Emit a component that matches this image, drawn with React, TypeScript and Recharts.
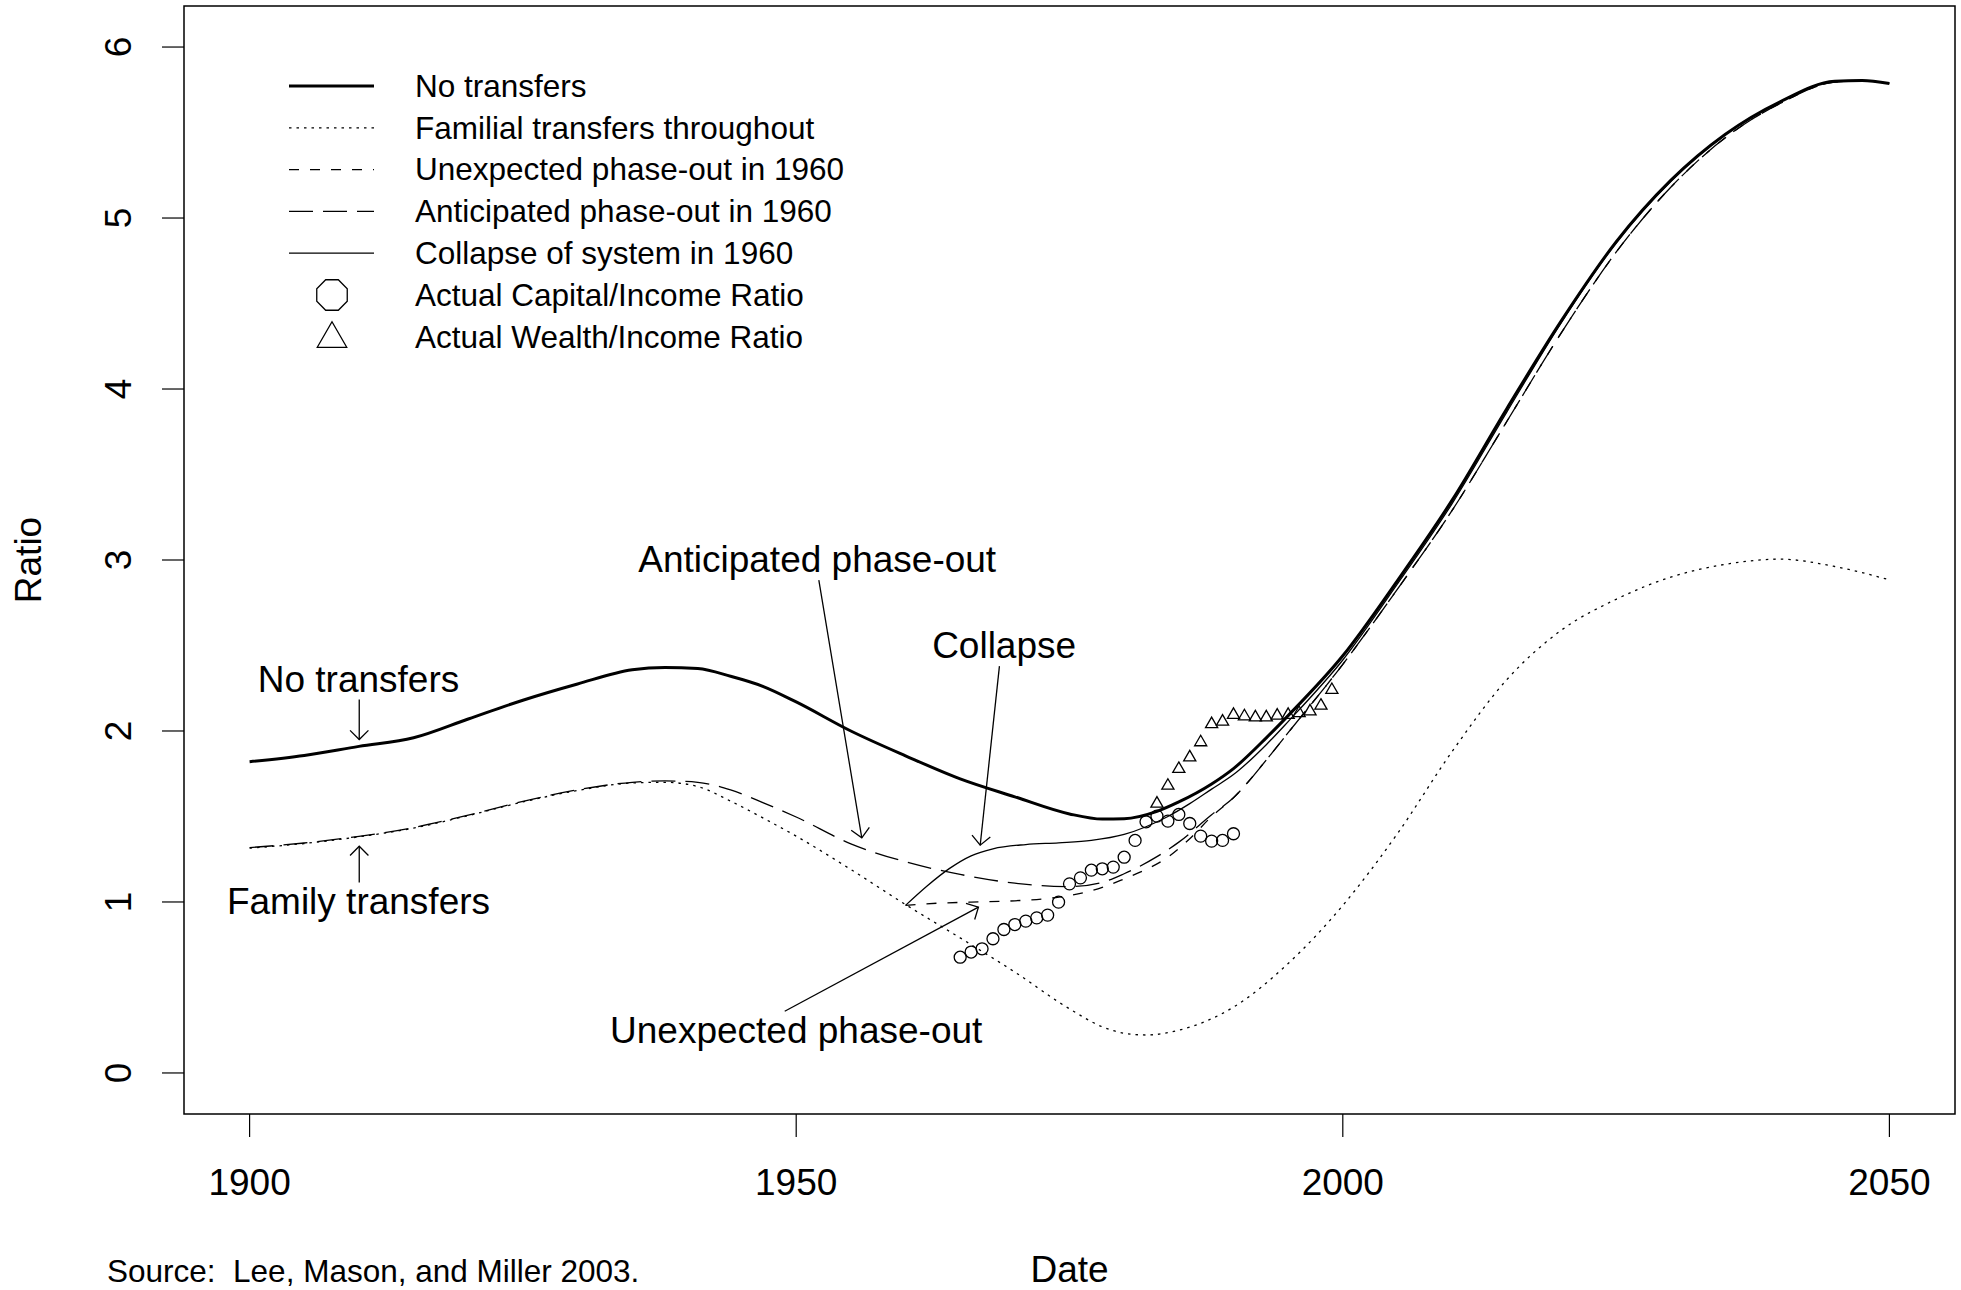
import React from 'react';
import {
  ComposedChart,
  Line,
  Scatter,
  XAxis,
  YAxis,
  ReferenceArea,
  ReferenceLine,
  ReferenceDot,
} from 'recharts';

const FONT = '"Liberation Sans", Arial, Helvetica, sans-serif';

// axes
const xTicks = [1900, 1950, 2000, 2050];
const yTicks = [0, 1, 2, 3, 4, 5, 6];

// simulated series, [year, capital/income ratio]
const noTransfers: [number, number][] = [
  [1900, 1.82], [1905, 1.857], [1910, 1.91], [1915, 1.96], [1920, 2.07],
  [1925, 2.18], [1930, 2.275], [1935, 2.358], [1938, 2.372], [1941, 2.365],
  [1944, 2.32], [1947, 2.26], [1950, 2.17], [1955, 2.0], [1960, 1.855],
  [1965, 1.72], [1970, 1.615], [1975, 1.515], [1978, 1.485], [1980, 1.487],
  [1983, 1.53], [1985, 1.585], [1988, 1.69], [1990, 1.78], [1993, 1.96],
  [1995, 2.09], [2000, 2.44], [2005, 2.88], [2010, 3.35], [2015, 3.885],
  [2020, 4.4], [2025, 4.86], [2030, 5.22], [2035, 5.49], [2040, 5.68],
  [2045, 5.8], [2047.5, 5.805], [2050, 5.787],
];

const familial: [number, number][] = [
  [1900, 1.315], [1905, 1.342], [1910, 1.381], [1915, 1.432], [1920, 1.505],
  [1925, 1.585], [1930, 1.652], [1935, 1.696], [1938, 1.7], [1941, 1.675],
  [1944, 1.59], [1947, 1.49], [1950, 1.385], [1955, 1.19], [1960, 0.985],
  [1965, 0.79], [1970, 0.59], [1975, 0.375], [1978, 0.27], [1980, 0.232],
  [1982, 0.222], [1985, 0.25], [1990, 0.385], [1995, 0.64], [2000, 0.98],
  [2005, 1.4], [2010, 1.88], [2015, 2.3], [2020, 2.59], [2025, 2.77],
  [2030, 2.9], [2035, 2.975], [2040, 3.005], [2045, 2.962], [2050, 2.884],
];

const anticipated: [number, number][] = [
  [1900, 1.318], [1905, 1.345], [1910, 1.384], [1915, 1.435], [1920, 1.508],
  [1925, 1.588], [1930, 1.656], [1935, 1.7], [1938, 1.708], [1941, 1.7],
  [1944, 1.655], [1947, 1.58], [1950, 1.497], [1955, 1.34], [1960, 1.235],
  [1965, 1.161], [1970, 1.11], [1975, 1.09], [1978, 1.115], [1980, 1.165],
  [1983, 1.265], [1985, 1.35], [1988, 1.51], [1990, 1.61], [1993, 1.83],
  [1995, 1.99], [2000, 2.39], [2005, 2.83], [2010, 3.29], [2015, 3.81],
  [2020, 4.33], [2025, 4.8], [2030, 5.18], [2035, 5.47], [2040, 5.67],
  [2045, 5.795], [2047.5, 5.803], [2050, 5.786],
];

const unexpected: [number, number][] = [
  [1960, 0.98], [1963, 0.993], [1966, 0.999], [1970, 1.007], [1973, 1.02],
  [1976, 1.05], [1978, 1.085], [1980, 1.135], [1982, 1.19], [1984, 1.262],
  [1986, 1.37], [1988, 1.5], [1990, 1.61], [1993, 1.83], [1995, 1.99],
  [2000, 2.39], [2005, 2.83], [2010, 3.29], [2015, 3.81], [2020, 4.33],
  [2025, 4.8], [2030, 5.18], [2035, 5.47], [2040, 5.67], [2045, 5.795],
  [2047.5, 5.803], [2050, 5.786],
];

const collapse: [number, number][] = [
  [1960, 0.98], [1962, 1.095], [1964, 1.195], [1966, 1.27], [1968, 1.311],
  [1971, 1.336], [1974, 1.346], [1977, 1.36], [1980, 1.395], [1982, 1.44],
  [1984, 1.5], [1986, 1.575], [1988, 1.66], [1990, 1.745], [1993, 1.92],
  [1995, 2.055], [2000, 2.415], [2005, 2.86], [2010, 3.33], [2015, 3.865],
  [2020, 4.39], [2025, 4.855], [2030, 5.215], [2035, 5.488], [2040, 5.68],
  [2045, 5.8], [2047.5, 5.805], [2050, 5.787],
];

// observed ratios
const capitalYears = [
  1965, 1966, 1967, 1968, 1969, 1970, 1971, 1972, 1973, 1974, 1975, 1976, 1977,
  1978, 1979, 1980, 1981, 1982, 1983, 1984, 1985, 1986, 1987, 1988, 1989, 1990,
];
const capitalRatio = [
  0.677, 0.707, 0.726, 0.785, 0.839, 0.868, 0.888, 0.907, 0.923, 0.999, 1.106,
  1.141, 1.186, 1.194, 1.204, 1.262, 1.36, 1.469, 1.502, 1.473, 1.512, 1.459,
  1.385, 1.356, 1.36, 1.399,
];
const wealthYears = [
  1983, 1984, 1985, 1986, 1987, 1988, 1989, 1990, 1991, 1992, 1993, 1994, 1995,
  1996, 1997, 1998, 1999,
];
const wealthRatio = [
  1.575, 1.68, 1.778, 1.846, 1.934, 2.04, 2.055, 2.094, 2.086, 2.08, 2.08, 2.09,
  2.094, 2.105, 2.115, 2.148, 2.24,
];

const legendLabels = [
  'No transfers',
  'Familial transfers throughout',
  'Unexpected phase-out in 1960',
  'Anticipated phase-out in 1960',
  'Collapse of system in 1960',
  'Actual Capital/Income Ratio',
  'Actual Wealth/Income Ratio',
];

// text annotations and arrows, in data units
const notes = [
  { text: 'No transfers', year: 1909.96, value: 2.227 },
  { text: 'Family transfers', year: 1909.96, value: 0.927 },
  { text: 'Anticipated phase-out', year: 1951.92, value: 2.927 },
  { text: 'Collapse', year: 1969.02, value: 2.424 },
  { text: 'Unexpected phase-out', year: 1950.0, value: 0.178 },
];
const arrows = [
  { from: [1910.03, 2.184], to: [1910.03, 1.95] },
  { from: [1910.03, 1.114], to: [1910.03, 1.326] },
  { from: [1952.07, 2.882], to: [1956.0, 1.375] },
  { from: [1968.59, 2.379], to: [1966.83, 1.332] },
  { from: [1948.95, 0.361], to: [1966.67, 0.97] },
];

const toPoints = (pairs: [number, number][]) =>
  pairs.map(([year, value]) => ({ year, value }));
const zipPoints = (years: number[], values: number[]) =>
  years.map((year, i) => ({ year, value: values[i] }));

const DOTTED = '2.5 5';
const DASHED = '10 11';
const LONGDASH = '24 10';

const XTick = (props: any) => (
  <text
    x={props.x}
    y={props.y + 58}
    textAnchor="middle"
    fontSize={37}
    fontFamily={FONT}
    fill="#000"
  >
    {props.payload.value}
  </text>
);

const YTick = (props: any) => {
  const x = props.x - 31;
  return (
    <text
      x={x}
      y={props.y}
      transform={`rotate(-90 ${x} ${props.y})`}
      textAnchor="middle"
      fontSize={37}
      fontFamily={FONT}
      fill="#000"
    >
      {props.payload.value}
    </text>
  );
};

const RatioLabel = (props: any) => {
  const vb = props.viewBox || { x: 0, y: 6, width: 184, height: 1108 };
  const x = vb.x + 41;
  const y = vb.y + vb.height / 2;
  return (
    <text
      x={x}
      y={y}
      transform={`rotate(-90 ${x} ${y})`}
      textAnchor="middle"
      fontSize={37}
      fontFamily={FONT}
      fill="#000"
    >
      Ratio
    </text>
  );
};

const DateLabel = (props: any) => {
  const vb = props.viewBox || { x: 184, y: 1114, width: 1771, height: 176 };
  return (
    <text
      x={vb.x + vb.width / 2}
      y={vb.y + 168}
      textAnchor="middle"
      fontSize={37}
      fontFamily={FONT}
      fill="#000"
    >
      Date
    </text>
  );
};

const ArrowShape = (props: any) => {
  const { x1, y1, x2, y2 } = props;
  const ang = Math.atan2(y2 - y1, x2 - x1);
  const len = 13;
  const spread = Math.PI / 4;
  const w1x = x2 - len * Math.cos(ang - spread);
  const w1y = y2 - len * Math.sin(ang - spread);
  const w2x = x2 - len * Math.cos(ang + spread);
  const w2y = y2 - len * Math.sin(ang + spread);
  return (
    <g>
      <line x1={x1} y1={y1} x2={x2} y2={y2} stroke="#000" strokeWidth={1.3} />
      <polyline
        points={`${w1x},${w1y} ${x2},${y2} ${w2x},${w2y}`}
        fill="none"
        stroke="#000"
        strokeWidth={1.3}
      />
    </g>
  );
};

const CircleShape = (props: any) => (
  <circle cx={props.cx} cy={props.cy} r={6} fill="none" stroke="#000" strokeWidth={1.3} />
);

const triangle = (cx: number, cy: number, r: number) =>
  `${cx},${cy - r} ${cx + 0.866 * r},${cy + r / 2} ${cx - 0.866 * r},${cy + r / 2}`;

const TriangleShape = (props: any) => (
  <polygon
    points={triangle(props.cx, props.cy, 7)}
    fill="none"
    stroke="#000"
    strokeWidth={1.3}
  />
);

const octagon = (cx: number, cy: number, r: number) =>
  Array.from({ length: 8 }, (_, i) => {
    const a = Math.PI / 8 + (i * Math.PI) / 4;
    return `${cx + r * Math.cos(a)},${cy + r * Math.sin(a)}`;
  }).join(' ');

function LegendOverlay() {
  const rowY = (i: number) => 86 + i * 41.8;
  const lineStyles = [
    { w: 3, dash: undefined },
    { w: 1.3, dash: DOTTED },
    { w: 1.3, dash: DASHED },
    { w: 1.3, dash: LONGDASH },
    { w: 1.3, dash: undefined },
  ];
  return (
    <svg
      width={1961}
      height={1290}
      style={{ position: 'absolute', left: 0, top: 0, pointerEvents: 'none' }}
    >
      {legendLabels.map((label, i) => {
        const y = rowY(i);
        let key: React.ReactNode = null;
        if (i < 5) {
          key = (
            <line
              x1={289}
              x2={374}
              y1={y}
              y2={y}
              stroke="#000"
              strokeWidth={lineStyles[i].w}
              strokeDasharray={lineStyles[i].dash}
            />
          );
        } else if (i === 5) {
          key = <polygon points={octagon(332, y, 16.5)} fill="none" stroke="#000" strokeWidth={1.3} />;
        } else {
          key = <polygon points={triangle(332, y + 2, 17)} fill="none" stroke="#000" strokeWidth={1.3} />;
        }
        return (
          <g key={label}>
            {key}
            <text x={415} y={y + 10.8} fontSize={31.5} fontFamily={FONT} fill="#000">
              {label}
            </text>
          </g>
        );
      })}
      <text x={107} y={1282} fontSize={31.5} fontFamily={FONT} fill="#000">
        Source:{'\u00a0\u00a0'}Lee, Mason, and Miller 2003.
      </text>
    </svg>
  );
}

export default function App() {
  return (
    <div
      style={{
        position: 'absolute',
        left: 0,
        top: 0,
        width: 1961,
        height: 1290,
        background: '#fff',
      }}
    >
      <ComposedChart
        width={1961}
        height={1290}
        margin={{ top: 6, right: 6, bottom: 0, left: 0 }}
      >
        <XAxis
          dataKey="year"
          type="number"
          domain={[1894, 2056]}
          allowDataOverflow
          ticks={xTicks}
          interval={0}
          height={176}
          axisLine={false}
          tickLine={{ stroke: '#000', strokeWidth: 1.2 }}
          tickSize={23}
          tickMargin={0}
          tick={XTick}
          label={DateLabel}
        />
        <YAxis
          type="number"
          domain={[-0.24, 6.24]}
          allowDataOverflow
          ticks={yTicks}
          interval={0}
          width={184}
          axisLine={false}
          tickLine={{ stroke: '#000', strokeWidth: 1.2 }}
          tickSize={22}
          tickMargin={0}
          tick={YTick}
          label={RatioLabel}
        />
        <ReferenceArea
          x1={1894}
          x2={2056}
          y1={-0.24}
          y2={6.24}
          fill="none"
          fillOpacity={0}
          stroke="#000"
          strokeWidth={1.5}
          ifOverflow="visible"
        />
        <Line
          data={toPoints(familial)}
          dataKey="value"
          type="monotone"
          stroke="#000"
          strokeWidth={1.3}
          strokeDasharray={DOTTED}
          dot={false}
          activeDot={false}
          isAnimationActive={false}
        />
        <Line
          data={toPoints(anticipated)}
          dataKey="value"
          type="monotone"
          stroke="#000"
          strokeWidth={1.3}
          strokeDasharray={LONGDASH}
          dot={false}
          activeDot={false}
          isAnimationActive={false}
        />
        <Line
          data={toPoints(unexpected)}
          dataKey="value"
          type="monotone"
          stroke="#000"
          strokeWidth={1.3}
          strokeDasharray={DASHED}
          dot={false}
          activeDot={false}
          isAnimationActive={false}
        />
        <Line
          data={toPoints(collapse)}
          dataKey="value"
          type="monotone"
          stroke="#000"
          strokeWidth={1.3}
          dot={false}
          activeDot={false}
          isAnimationActive={false}
        />
        <Line
          data={toPoints(noTransfers)}
          dataKey="value"
          type="monotone"
          stroke="#000"
          strokeWidth={3}
          dot={false}
          activeDot={false}
          isAnimationActive={false}
        />
        <Scatter
          data={zipPoints(capitalYears, capitalRatio)}
          dataKey="value"
          shape={CircleShape}
          isAnimationActive={false}
        />
        <Scatter
          data={zipPoints(wealthYears, wealthRatio)}
          dataKey="value"
          shape={TriangleShape}
          isAnimationActive={false}
        />
        {arrows.map((a, i) => (
          <ReferenceLine
            key={`arrow-${i}`}
            segment={[
              { x: a.from[0], y: a.from[1] },
              { x: a.to[0], y: a.to[1] },
            ]}
            shape={ArrowShape}
            ifOverflow="visible"
          />
        ))}
        {notes.map((n) => (
          <ReferenceDot
            key={n.text}
            x={n.year}
            y={n.value}
            r={0}
            ifOverflow="visible"
            shape={(p: any) => (
              <text
                x={p.cx}
                y={p.cy}
                textAnchor="middle"
                fontSize={37}
                fontFamily={FONT}
                fill="#000"
              >
                {n.text}
              </text>
            )}
          />
        ))}
      </ComposedChart>
      <LegendOverlay />
    </div>
  );
}
